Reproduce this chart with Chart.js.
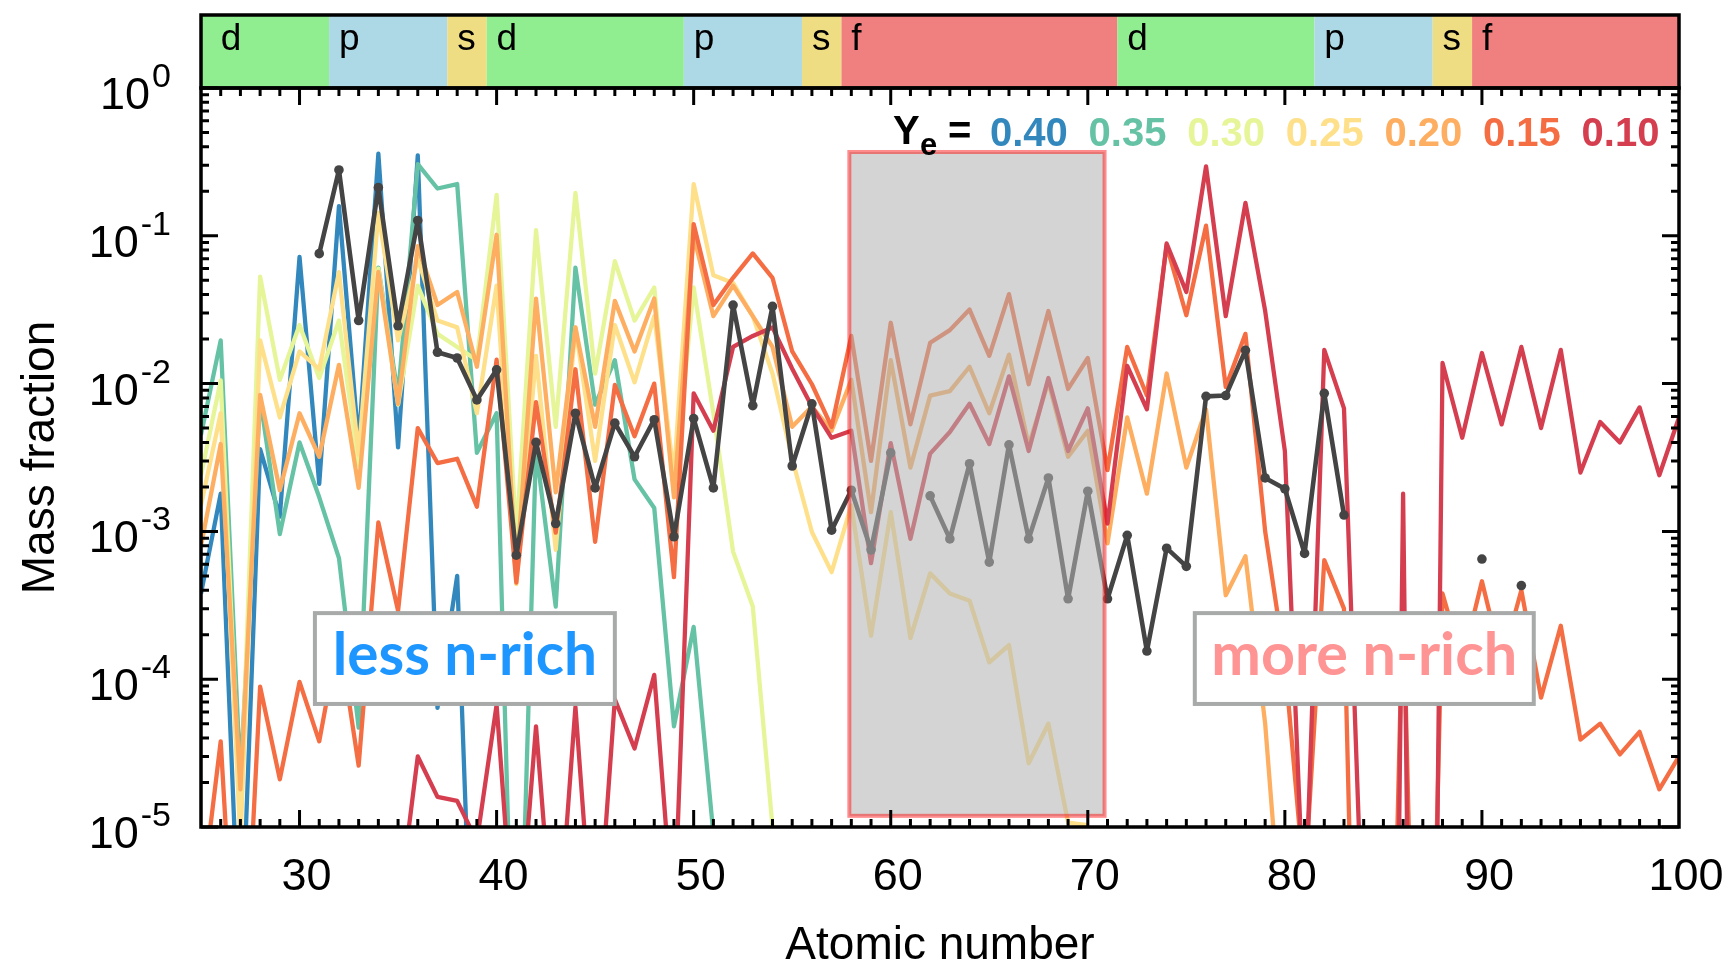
<!DOCTYPE html>
<html>
<head>
<meta charset="utf-8">
<script src="https://cdn.jsdelivr.net/npm/chart.js@4.4.0/dist/chart.umd.min.js"></script>
<style>
  html, body { margin: 0; padding: 0; background: #fff; }
  #wrap { width: 1730px; height: 966px; }
</style>
</head>
<body>
<div id="wrap"><canvas id="chart" width="1730" height="966"></canvas></div>
<script>
// Atomic numbers on the x axis
const atomicNumbers = [
    25, 26, 27, 28, 29, 30, 31, 32, 33, 34,
    35, 36, 37, 38, 39, 40, 41, 42, 43, 44,
    45, 46, 47, 48, 49, 50, 51, 52, 53, 54,
    55, 56, 57, 58, 59, 60, 61, 62, 63, 64,
    65, 66, 67, 68, 69, 70, 71, 72, 73, 74,
    75, 76, 77, 78, 79, 80, 81, 82, 83, 84,
    85, 86, 87, 88, 89, 90, 91, 92, 93, 94,
    95, 96, 97, 98, 99, 100
];

// Mass fractions per Ye (rows: Z25-34, 35-44, 45-54, 55-64, 65-74, 75-84, 85-94, 95-100)
const ye040 = [
    3.8e-4, 1.8e-3, 1e-6, 3.6e-3, 1.26e-3, 0.072, 2.1e-3, 0.159, 3.9e-3, 0.36,
    3.7e-3, 0.35, 6.4e-5, 5.0e-4, 1e-7, null, null, null, null, null,
    null, null, null, null, null, null, null, null, null, null,
    null, null, null, null, null, null, null, null, null, null,
    null, null, null, null, null, null, null, null, null, null,
    null, null, null, null, null, null, null, null, null, null,
    null, null, null, null, null, null, null, null, null, null,
    null, null, null, null, null, null
];
const ye035 = [
    4.5e-3, 0.0196, 2.1e-5, 8.0e-3, 9.6e-4, 4.0e-3, 1.7e-3, 6.6e-4, 4.7e-5, 0.061,
    8.3e-3, 0.305, 0.209, 0.224, 3.4e-3, 6.3e-3, 1e-7, 3.65e-3, 3.1e-4, 0.061,
    7.2e-3, 0.0144, 2.25e-3, 1.44e-3, 4.8e-5, 2.26e-4, 9e-6, null, null, null,
    null, null, null, null, null, null, null, null, null, null,
    null, null, null, null, null, null, null, null, null, null,
    null, null, null, null, null, null, null, null, null, null,
    null, null, null, null, null, null, null, null, null, null,
    null, null, null, null, null, null
];
const ye030 = [
    2.4e-3, 0.0105, 1.2e-5, 0.053, 0.0106, 0.0249, 0.0109, 0.0267, 2.8e-3, 0.06,
    7.2e-3, 0.046, 0.0217, 0.0177, 0.0144, 0.189, 9.2e-4, 0.109, 5.1e-3, 0.195,
    0.0117, 0.0674, 0.0267, 0.0447, 1.84e-3, 0.0447, 6.3e-3, 7.3e-4, 3.1e-4, 1e-5,
    null, null, null, null, null, null, null, null, null, null,
    null, null, null, null, null, null, null, null, null, null,
    null, null, null, null, null, null, null, null, null, null,
    null, null, null, null, null, null, null, null, null, null,
    null, null, null, null, null, null
];
const ye025 = [
    1.5e-3, 6.3e-3, 8e-6, 0.0196, 5.9e-3, 0.0165, 0.0125, 0.0568, 3.3e-3, 0.143,
    0.0196, 0.07, 0.0267, 0.024, 6.3e-3, 0.046, 4.4e-4, 0.0154, 7.5e-4, 0.024,
    3.0e-3, 0.0249, 0.0102, 0.0286, 2.4e-3, 0.224, 0.054, 0.048, 0.0286, 0.0117,
    3.1e-3, 9.9e-4, 5.3e-4, 1.5e-3, 1.97e-4, 1.35e-3, 1.9e-4, 5.2e-4, 3.8e-4, 3.4e-4,
    1.3e-4, 1.7e-4, 2.7e-5, 5.0e-5, 1.07e-5, 1.03e-5, null, null, null, null,
    null, null, null, null, null, null, null, null, null, null,
    null, null, null, null, null, null, null, null, null, null,
    null, null, null, null, null, null
];
const ye020 = [
    8e-4, 3.9e-3, 1.8e-5, 8.4e-3, 1.9e-3, 6.3e-3, 3.2e-3, 0.0134, 1.97e-3, 0.057,
    7.3e-3, 0.085, 0.034, 0.0417, 0.013, 0.1016, 5.0e-4, 0.0376, 1.84e-3, 0.024,
    5.1e-3, 0.0363, 0.0165, 0.0376, 1.7e-3, 0.10, 0.0286, 0.046, 0.0286, 0.0177,
    5.1e-3, 7.0e-3, 4.8e-3, 0.0106, 1.35e-3, 0.0144, 2.7e-3, 8.3e-3, 8.9e-3, 0.013,
    6.3e-3, 0.0157, 3.8e-3, 0.0103, 3.2e-3, 4.8e-3, 8.3e-4, 5.9e-3, 1.8e-3, 0.0117,
    2.7e-3, 6.7e-3, 3.7e-4, 6.8e-4, 5e-5, 1e-6, null, null, null, null,
    null, null, null, null, null, null, null, null, null, null,
    null, null, null, null, null, null
];
const ye015 = [
    3e-6, 3.8e-5, 2e-7, 8.9e-5, 2.1e-5, 9.6e-5, 3.8e-5, 2e-4, 2.6e-5, 1.15e-3,
    2.9e-4, 5.0e-3, 2.9e-3, 3.1e-3, 1.47e-3, 0.0145, 4.5e-4, 7.5e-3, 9.8e-4, 0.0125,
    8.5e-4, 9.8e-3, 4.4e-3, 0.01, 4.9e-4, 0.12, 0.034, 0.052, 0.076, 0.052,
    0.0165, 9.9e-3, 5.1e-3, 0.021, 3.0e-3, 0.0258, 5.3e-3, 0.0189, 0.023, 0.0317,
    0.0154, 0.0403, 9.9e-3, 0.031, 9.2e-3, 0.0149, 2.6e-3, 0.0177, 8.3e-3, 0.086,
    0.029, 0.117, 9.5e-3, 0.0217, 1e-3, 1.3e-4, 4e-6, 6.4e-4, 3e-4, 1e-9,
    1e-9, 4e-4, 1e-9, 3.8e-4, 1.3e-4, 4.6e-4, 1.3e-4, 4e-4, 7.5e-5, 2.3e-4,
    3.9e-5, 5e-5, 3.1e-5, 4.4e-5, 1.8e-5, 3e-5
];
const ye010 = [
    null, null, null, null, null, null, null, null, null, null,
    2.6e-6, 3.0e-5, 1.6e-5, 1.5e-5, 8e-6, 6.7e-5, 1e-6, 4.8e-5, 1e-6, 6.5e-5,
    1e-6, 7.3e-5, 3.4e-5, 1.07e-4, 2e-6, 8.6e-3, 4.8e-3, 0.0177, 0.021, 0.024,
    0.0126, 7.0e-3, 4.3e-3, 4.8e-3, 6.1e-4, 3.96e-3, 8.9e-4, 3.36e-3, 4.7e-3, 7.3e-3,
    3.9e-3, 0.0112, 3.5e-3, 0.0109, 3.5e-3, 6.8e-3, 1.13e-3, 0.0132, 6.7e-3, 0.0887,
    0.0417, 0.295, 0.0286, 0.167, 0.031, 3.5e-3, 2e-6, 0.0169, 6.8e-3, 1.2e-6,
    1e-14, 1.8e-3, 1e-14, 0.0138, 4.3e-3, 0.0161, 5.3e-3, 0.0177, 5.0e-3, 0.0169,
    2.5e-3, 5.5e-3, 4.0e-3, 6.9e-3, 2.4e-3, 5.9e-3
];
// Solar r-process pattern (dark line with dots)
const solarR = [
    null, null, null, null, null, null, 0.0757, 0.279, 0.0267, 0.212,
    0.0246, 0.127, 0.0163, 0.0149, 0.00776, 0.0124, 0.00069, 0.0040, 0.00113, 0.0063,
    0.00197, 0.0054, 0.0032, 0.0057, 0.00092, 0.0058, 0.00197, 0.034, 0.0071, 0.0333,
    0.00277, 0.0073, 0.00102, 0.0019, 0.00075, 0.0034, null, 0.00174, 0.00089, 0.00287,
    0.00062, 0.00385, 0.00089, 0.0023, 0.00035, 0.00187, 0.00035, 0.00094, 0.000155, 0.00077,
    0.00058, 0.0082, 0.0083, 0.0168, 0.0023, 0.00194, 0.00071, 0.0086, 0.00129, null,
    null, null, null, null, null, 0.00065, null, 0.00043, null, null,
    null, null, null, null, null, null
];

const yeLabels = ['0.40', '0.35', '0.30', '0.25', '0.20', '0.15', '0.10'];
const yeSeries = [ye040, ye035, ye030, ye025, ye020, ye015, ye010];
const yeColors = ['#3288bd', '#66c2a5', '#e6f598', '#fee08b', '#fdae61', '#f46d43', '#d53e4f'];

// Periodic table blocks along the top strip
const blockEdges = [25, 31.5, 37.5, 39.5, 49.5, 55.5, 57.5, 71.5, 81.5, 87.5, 89.5, 100];
const blockNames = ['d', 'p', 's', 'd', 'p', 's', 'f', 'd', 'p', 's', 'f'];
const blockColors = { d: '#90ee90', p: '#add8e6', s: '#eedd82', f: '#f08080' };

// Axis ticks
const xTickLabels = [30, 40, 50, 60, 70, 80, 90, 100];
const yDecades = [1e-5, 1e-4, 1e-3, 1e-2, 1e-1, 1];
const yExponents = ['-5', '-4', '-3', '-2', '-1', '0'];

const FONT = '"Liberation Sans", Arial, sans-serif';

function toPoints(values) {
    return atomicNumbers.map((z, i) => ({ x: z, y: values[i] }));
}

const datasets = [{
    label: 'solar',
    data: toPoints(solarR),
    borderColor: '#444444',
    backgroundColor: '#444444',
    borderWidth: 4.6,
    pointRadius: 4.8,
    pointHoverRadius: 4.8,
    pointBorderWidth: 0,
    borderJoinStyle: 'round',
    clip: 1
}];
for (let i = yeSeries.length - 1; i >= 0; i--) {
    datasets.push({
        label: 'Ye ' + yeLabels[i],
        data: toPoints(yeSeries[i]),
        borderColor: yeColors[i],
        borderWidth: 4.3,
        pointRadius: 0,
        pointHoverRadius: 0,
        borderJoinStyle: 'round',
        clip: 1
    });
}

const decor = {
    id: 'decor',
    afterDatasetsDraw(chart) {
        const ctx = chart.ctx;
        const px = v => chart.scales.x.getPixelForValue(v);
        const py = v => chart.scales.y.getPixelForValue(v);
        ctx.save();

        // shaded lanthanide window
        const gx0 = px(57.9), gx1 = px(70.85), gy0 = py(0.369), gy1 = py(1.19e-5);
        ctx.fillStyle = 'rgba(176,178,177,0.56)';
        ctx.fillRect(gx0, gy0, gx1 - gx0, gy1 - gy0);
        ctx.strokeStyle = 'rgba(255,0,0,0.45)';
        ctx.lineWidth = 4;
        ctx.strokeRect(gx0, gy0, gx1 - gx0, gy1 - gy0);

        // labelled boxes
        const boxes = [
            { text: 'less n-rich', x0: 30.78, x1: 46.0, color: '#1e96ff', width: 264 },
            { text: 'more n-rich', x0: 75.43, x1: 92.63, color: '#ff9494', width: 306 }
        ];
        boxes.forEach(b => {
            const bx0 = px(b.x0), bx1 = px(b.x1), by0 = py(2.8e-4), by1 = py(6.8e-5);
            ctx.fillStyle = '#ffffff';
            ctx.fillRect(bx0, by0, bx1 - bx0, by1 - by0);
            ctx.strokeStyle = '#a7aaa8';
            ctx.lineWidth = 4;
            ctx.strokeRect(bx0, by0, bx1 - bx0, by1 - by0);
            ctx.font = 'bold 100px Lato, "Open Sans", sans-serif';
            const size = 100 * b.width / ctx.measureText(b.text).width;
            ctx.font = 'bold ' + size.toFixed(1) + 'px Lato, "Open Sans", sans-serif';
            ctx.fillStyle = b.color;
            ctx.textAlign = 'center';
            ctx.textBaseline = 'alphabetic';
            ctx.fillText(b.text, (bx0 + bx1) / 2, by1 - 29);
        });

        // Ye legend
        ctx.textAlign = 'left';
        ctx.textBaseline = 'alphabetic';
        ctx.fillStyle = '#000';
        ctx.font = 'bold 40px ' + FONT;
        ctx.fillText('Y', 893, 144);
        ctx.font = 'bold 31px ' + FONT;
        ctx.fillText('e', 920, 155);
        ctx.font = 'bold 40px ' + FONT;
        ctx.fillText('=', 948, 144);
        yeLabels.forEach((lab, i) => {
            ctx.fillStyle = yeColors[i];
            ctx.fillText(lab, 990 + i * 98.6, 146);
        });
        ctx.restore();
    },
    afterDraw(chart) {
        const ctx = chart.ctx;
        const a = chart.chartArea;
        const px = v => chart.scales.x.getPixelForValue(v);
        const py = v => chart.scales.y.getPixelForValue(v);
        ctx.save();

        // element block strip
        const bandTop = 15;
        for (let i = 0; i < blockNames.length; i++) {
            const x0 = px(blockEdges[i]), x1 = px(blockEdges[i + 1]);
            ctx.fillStyle = blockColors[blockNames[i]];
            ctx.fillRect(x0, bandTop, x1 - x0, a.top - bandTop);
            ctx.fillStyle = '#000';
            ctx.font = '37px ' + FONT;
            ctx.textAlign = 'left';
            ctx.textBaseline = 'alphabetic';
            ctx.fillText(blockNames[i], px(Math.max(blockEdges[i], 25.5) + 0.5), 50);
        }
        ctx.strokeStyle = '#000';
        ctx.lineWidth = 3.5;
        ctx.strokeRect(a.left, bandTop, a.right - a.left, a.top - bandTop);

        // plot frame
        ctx.strokeRect(a.left, a.top, a.right - a.left, a.bottom - a.top);

        // x ticks (inward, top and bottom)
        ctx.lineWidth = 3;
        ctx.beginPath();
        for (let z = 26; z < 100; z++) {
            const x = px(z);
            const len = z % 10 === 0 ? 17 : 8;
            ctx.moveTo(x, a.bottom); ctx.lineTo(x, a.bottom - len);
            ctx.moveTo(x, a.top); ctx.lineTo(x, a.top + len);
        }
        // y ticks (inward, left and right)
        yDecades.forEach((d, k) => {
            const y = py(d);
            ctx.moveTo(a.left, y); ctx.lineTo(a.left + 17, y);
            ctx.moveTo(a.right, y); ctx.lineTo(a.right - 17, y);
            if (k < yDecades.length - 1) {
                for (let m = 2; m <= 9; m++) {
                    const ym = py(m * d);
                    ctx.moveTo(a.left, ym); ctx.lineTo(a.left + 8, ym);
                    ctx.moveTo(a.right, ym); ctx.lineTo(a.right - 8, ym);
                }
            }
        });
        ctx.stroke();

        // tick labels
        ctx.fillStyle = '#000';
        ctx.textBaseline = 'alphabetic';
        ctx.textAlign = 'center';
        ctx.font = '45px ' + FONT;
        xTickLabels.forEach(v => ctx.fillText(String(v), px(v) + 7, 890));
        ctx.textAlign = 'right';
        yDecades.forEach((d, k) => {
            const y = py(d);
            ctx.font = '34px ' + FONT;
            const ew = ctx.measureText(yExponents[k]).width;
            ctx.fillText(yExponents[k], 171, y - 1);
            ctx.font = '45px ' + FONT;
            ctx.fillText('10', 169 - ew, y + 21);
        });

        // axis titles
        ctx.font = '46px ' + FONT;
        ctx.textAlign = 'center';
        ctx.fillText('Atomic number', (a.left + a.right) / 2, 959);
        ctx.translate(54, (a.top + a.bottom) / 2);
        ctx.rotate(-Math.PI / 2);
        ctx.fillText('Mass fraction', 0, 0);
        ctx.restore();
    }
};

new Chart(document.getElementById('chart'), {
    type: 'line',
    data: { datasets: datasets },
    options: {
        responsive: false,
        animation: false,
        devicePixelRatio: 1,
        layout: { padding: { top: 88, right: 51, bottom: 0, left: 0 } },
        plugins: { legend: { display: false }, tooltip: { enabled: false } },
        events: [],
        scales: {
            x: {
                type: 'linear', min: 25, max: 100,
                ticks: { display: false },
                grid: { display: false },
                border: { display: false },
                afterFit: s => { s.height = 139; }
            },
            y: {
                type: 'logarithmic', min: 1e-5, max: 1,
                ticks: { display: false },
                grid: { display: false },
                border: { display: false },
                afterFit: s => { s.width = 201; }
            }
        }
    },
    plugins: [decor]
});
</script>
</body>
</html>
